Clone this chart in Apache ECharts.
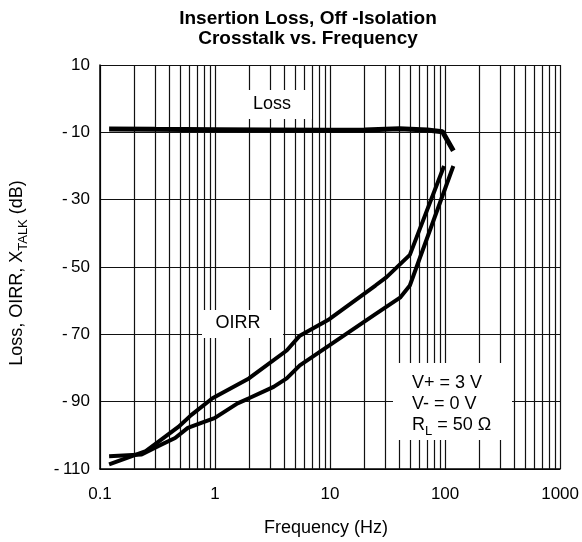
<!DOCTYPE html>
<html><head><meta charset="utf-8">
<script src="https://cdn.jsdelivr.net/npm/echarts@6/dist/echarts.min.js"></script>
<style>html,body{margin:0;padding:0;background:#fff}#c{width:582px;height:542px}</style>
</head><body><div id="c"></div>
<script>
// ---- data ----
const lossFreq = [0.12, 0.3, 1, 3, 10, 20, 40, 70, 95, 118];
const lossVal  = [-9, -9.1, -9.2, -9.3, -9.4, -9.3, -8.9, -9.3, -9.8, -15.5];

const oirrAFreq = [0.12, 0.25, 0.48, 0.62, 0.95, 1.97, 4.2, 5.46, 9.86, 24.8, 31, 49.4, 98];
const oirrAVal  = [-108.6, -104.7, -97.5, -94, -89, -83.1, -74.8, -70.4, -65.5, -55.5, -53, -46.4, -20];

const oirrBFreq = [0.12, 0.23, 0.32, 0.45, 0.58, 0.76, 0.99, 1.57, 1.97, 3.23, 4.2, 5.46, 9.86, 24.8, 40.6, 49.4, 118];
const oirrBVal  = [-106.2, -105.7, -103.2, -100.8, -97.8, -96.3, -94.9, -90.5, -89, -85.6, -83.1, -79.2, -73.3, -64, -59.1, -55.5, -20];

const xTickLabels = ['0.1', '1', '10', '100', '1000'];
const decades = [0.1, 1, 10, 100];
const minorMultipliers = [2, 3, 4, 5, 6, 7, 8, 9];
const yMin = -110, yMax = 10, yStep = 20;

const FONT = "'Liberation Sans', Arial, sans-serif";
const zip = (a, b) => a.map((v, i) => [v, b[i]]);
const minorGrid = [];
decades.forEach(d => minorMultipliers.forEach(m => minorGrid.push(+(d * m).toPrecision(3))));

const chart = echarts.init(document.getElementById('c'), null, {renderer: 'canvas'});
const lineStyle = {color: '#000', width: 4};
chart.setOption({
  animation: false,
  backgroundColor: '#fff',
  grid: {left: 100, right: 14, top: 65, bottom: 69, containLabel: false},
  xAxis: {
    type: 'log', logBase: 10, min: 0.1, max: 1000, splitNumber: 4,
    name: 'Frequency (Hz)', nameLocation: 'middle', nameGap: 50,
    nameTextStyle: {fontFamily: FONT, fontSize: 18, color: '#000', padding: [0, 8, 0, 0]},
    axisLine: {show: true, onZero: false, lineStyle: {color: '#000', width: 1.5}},
    axisTick: {show: false},
    axisLabel: {fontFamily: FONT, fontSize: 17, color: '#000', margin: 17,
      formatter: v => {const i = decades.concat([1000]).findIndex(d => Math.abs(d - v) / v < 1e-6); return i >= 0 ? xTickLabels[i] : '';}},
    splitLine: {show: true, lineStyle: {color: '#111', width: 1.2}}
  },
  yAxis: {
    type: 'value', min: yMin, max: yMax, interval: yStep,
    name: '{a|Loss, OIRR, X}{s|TALK}{a| (dB)}', nameLocation: 'middle', nameGap: 74,
    nameTextStyle: {padding: [0, 12, 0, 0], rich: {
      a: {fontFamily: FONT, fontSize: 18, color: '#000', verticalAlign: 'bottom', lineHeight: 20},
      s: {fontFamily: FONT, fontSize: 13, color: '#000', verticalAlign: 'bottom', lineHeight: 14, padding: [0, 0, -4, 0]}
    }},
    axisLine: {show: true, onZero: false, lineStyle: {color: '#000', width: 1.5}},
    axisTick: {show: false},
    axisLabel: {fontFamily: FONT, fontSize: 17, color: '#000', margin: 10,
      formatter: v => v < 0 ? '-\u2009' + Math.abs(v) : String(v)},
    splitLine: {show: true, lineStyle: {color: '#111', width: 1.2}}
  },
  series: [
    {name: 'Loss', type: 'line', data: zip(lossFreq, lossVal), showSymbol: false, smooth: false,
     lineStyle: {color: '#000', width: 5}, z: 3,
     markLine: {silent: true, symbol: ['none', 'none'], z: 1, animation: false,
       label: {show: false}, lineStyle: {color: '#111', width: 1.2, type: 'solid'},
       data: minorGrid.map(v => ({xAxis: v}))}},
    {name: 'OIRR A', type: 'line', data: zip(oirrAFreq, oirrAVal), showSymbol: false, lineStyle, z: 3},
    {name: 'OIRR B', type: 'line', data: zip(oirrBFreq, oirrBVal), showSymbol: false, lineStyle, z: 3}
  ],
  graphic: [
    {type: 'text', z: 101, x: 308, y: 9, style: {text: 'Insertion Loss, Off -Isolation\nCrosstalk vs. Frequency',
      font: "bold 19px 'Liberation Sans', Arial", fill: '#000', align: 'center', verticalAlign: 'top', lineHeight: 20}},
    {type: 'rect', z: 100, shape: {x: 245, y: 90, width: 67, height: 29}, style: {fill: '#fff'}},
    {type: 'text', z: 101, x: 272, y: 104, style: {text: 'Loss', font: "18px 'Liberation Sans', Arial", fill: '#000', align: 'center', verticalAlign: 'middle'}},
    {type: 'rect', z: 100, shape: {x: 202, y: 310, width: 81, height: 28}, style: {fill: '#fff'}},
    {type: 'text', z: 101, x: 238, y: 323, style: {text: 'OIRR', font: "18px 'Liberation Sans', Arial", fill: '#000', align: 'center', verticalAlign: 'middle'}},
    {type: 'rect', z: 100, shape: {x: 393, y: 363, width: 119, height: 77}, style: {fill: '#fff'}},
    {type: 'text', z: 101, x: 412, y: 383, style: {text: 'V+ = 3 V', font: "18px 'Liberation Sans', Arial", fill: '#000', align: 'left', verticalAlign: 'middle'}},
    {type: 'text', z: 101, x: 412, y: 404, style: {text: 'V- = 0 V', font: "18px 'Liberation Sans', Arial", fill: '#000', align: 'left', verticalAlign: 'middle'}},
    {type: 'text', z: 101, x: 412, y: 425, style: {
      text: '{a|R}{s|L}{a| = 50 Ω}', align: 'left', verticalAlign: 'middle',
      rich: {a: {font: "18px 'Liberation Sans', Arial", fill: '#000', verticalAlign: 'bottom'},
             s: {font: "13px 'Liberation Sans', Arial", fill: '#000', verticalAlign: 'bottom', padding: [0, 0, -4, 0]}}}}
  ]
});
</script>
</body></html>
